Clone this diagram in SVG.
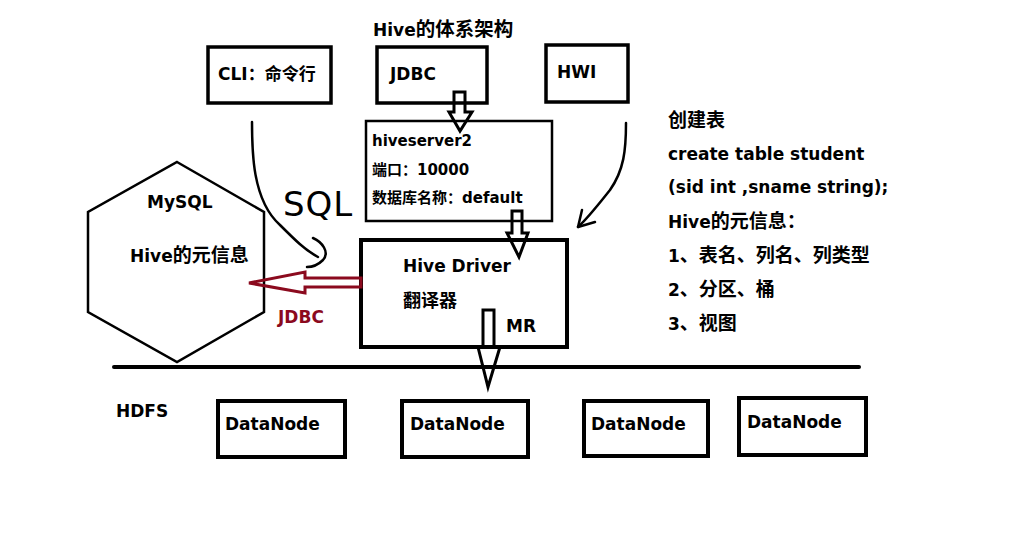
<svg xmlns="http://www.w3.org/2000/svg" width="1013" height="539" viewBox="0 0 1013 539">
<style>
text{font-family:"DejaVu Sans","Noto Sans CJK SC",sans-serif;font-weight:bold;font-size:17px;fill:#000}
.sm{font-size:15px}
.c19{font-size:19px}
.c20{font-size:20px}
.box{fill:none;stroke:#000;stroke-width:3.5}
.thin{fill:none;stroke:#000;stroke-width:2.5}
.thick{fill:none;stroke:#000;stroke-width:4}
.hollow{fill:none;stroke:#000;stroke-width:3;stroke-linejoin:miter}
.curve{fill:none;stroke:#000;stroke-width:2.5;stroke-linecap:round;stroke-linejoin:round}
</style>
<rect width="1013" height="539" fill="#fff"/>
<text x="373" y="36">Hive<tspan style="font-size:19.5px">的体系架构</tspan></text>
<g id="cli"><rect class="box" x="208" y="47" width="123" height="56"/><text x="218" y="80">CLI：命令行</text></g>
<g id="jdbc"><rect class="box" x="377" y="47" width="110" height="56"/><text x="390" y="80">JDBC</text></g>
<g id="hwi"><rect class="box" x="546" y="45" width="82" height="57"/><text x="557" y="78">HWI</text></g>
<g id="hiveserver2"><rect class="thin" x="366" y="121" width="186" height="100"/>
<text class="sm" x="372" y="146">hiveserver2</text>
<text class="sm" x="372" y="175">端口：10000</text>
<text class="sm" x="372" y="203">数据库名称：default</text></g>
<g id="driver"><rect class="thick" x="361" y="240" width="206" height="107"/>
<text x="403" y="272">Hive Driver</text>
<text x="403" y="307" style="font-size:18px">翻译器</text>
<text x="506" y="332">MR</text></g>
<g id="mysql"><polygon class="thin" points="177,162 264,212 264,312 177,362 88,312 88,212"/>
<text x="147" y="208">MySQL</text>
<text x="130" y="262">Hive<tspan class="c19">的元信息</tspan></text></g>
<g id="notes">
<text x="668" y="127" class="c19">创建表</text>
<text x="668" y="160">create table student</text>
<text x="668" y="193">(sid int ,sname string);</text>
<text x="668" y="228">Hive<tspan class="c19">的元信息：</tspan></text>
<text x="668" y="262">1<tspan class="c19">、表名、列名、列类型</tspan></text>
<text x="668" y="296">2<tspan class="c19">、分区、桶</tspan></text>
<text x="668" y="330">3<tspan class="c19">、视图</tspan></text>
</g>
<g id="hdfs"><line x1="114" y1="367" x2="859" y2="367" stroke="#000" stroke-width="4" stroke-linecap="round"/>
<text x="116" y="417">HDFS</text></g>
<g id="dn1"><rect class="thick" x="218" y="401" width="127" height="56"/><text x="225" y="430">DataNode</text></g>
<g id="dn2"><rect class="thick" x="402" y="401" width="126" height="56"/><text x="410" y="430">DataNode</text></g>
<g id="dn3"><rect class="thick" x="584" y="401" width="124" height="55"/><text x="591" y="430">DataNode</text></g>
<g id="dn4"><rect class="thick" x="739" y="398" width="127" height="57"/><text x="747" y="428">DataNode</text></g>
<g id="connectors">
<polygon class="hollow" points="454,92 465,92 465,112 472,112 460,131 449,112 454,112"/>
<polygon class="hollow" points="512,211 522,211 522,233 528,233 519,257 507,233 512,233"/>
<polygon class="hollow" points="483,310 494,310 494,347 500,347 488,387 478,347 483,347"/>
<polygon points="361,278 305,278 305,272 249,283 305,293 305,287 361,287" fill="none" stroke="#8b0a1e" stroke-width="3"/>
<text x="278" y="323" style="fill:#8b0a1e">JDBC</text>
<path class="curve" d="M252,122 C252,150 252,200 280,225 C295,240 305,250 318,257"/>
<path class="curve" d="M313,238 C322,242 330,252 323,260 C318,265 312,267 307,267"/>
<path class="curve" d="M626,123 C626,150 624,170 610,190 C598,205 588,218 578,227"/>
<path class="curve" d="M582,210 L578,227 L595,222"/>
<text x="283" y="216" style="font-family:'DejaVu Sans',sans-serif;font-weight:normal;font-size:34px;letter-spacing:1px">SQL</text>
</g>
</svg>
